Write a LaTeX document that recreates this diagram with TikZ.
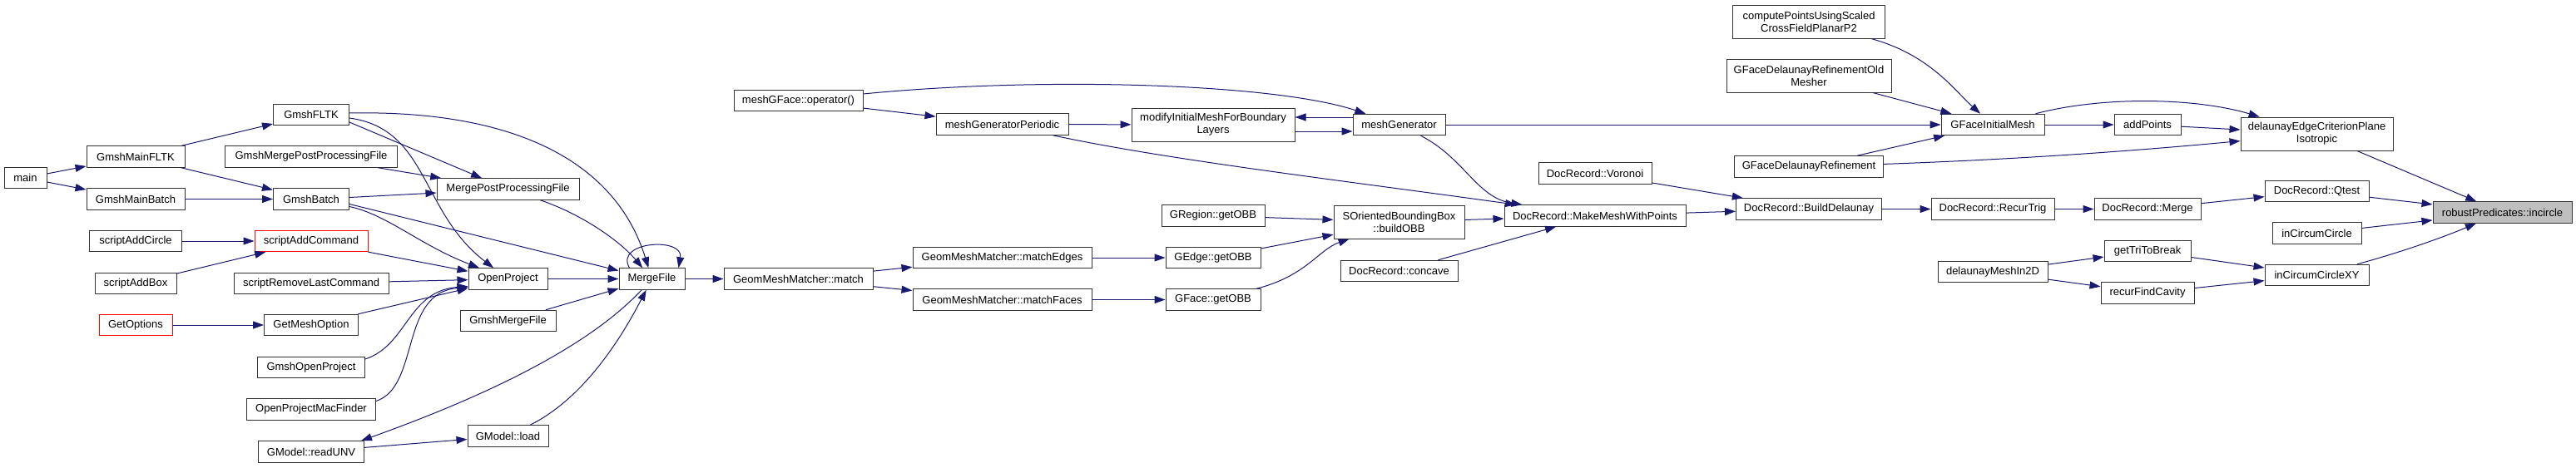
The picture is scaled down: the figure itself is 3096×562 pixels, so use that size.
\documentclass[tikz,border=0pt]{standalone}
\usepackage{fontspec}
\setmainfont{Liberation Sans}
\usetikzlibrary{arrows.meta}
\definecolor{edgeblue}{RGB}{25,25,112}
\definecolor{boxgray}{RGB}{191,191,191}

\begin{document}
\begin{tikzpicture}[
    x=1pt, y=-1pt,
    every node/.style={font=\fontsize{13}{15}\selectfont},
    fn/.style={draw=black!80, fill=white, line width=1pt, inner sep=0pt, minimum height=25.5pt, align=center},
    fntwo/.style={fn, minimum height=40pt},
    truncfn/.style={fn, draw=red},
    focusfn/.style={fn, fill=boxgray},
    callarrow/.style={-{Triangle[length=13pt,width=9pt]}, color=edgeblue, line width=1pt}
]
\useasboundingbox (0,0) rectangle (3096,562);

\node[fn, minimum width=51pt] (main) at (30.5,214) {main};
\node[fn, minimum width=118pt] (mainFltk) at (163,188.5) {GmshMainFLTK};
\node[fn, minimum width=118pt] (mainBatch) at (163,239.5) {GmshMainBatch};
\node[fn, minimum width=111pt] (addCircle) at (163,290) {scriptAddCircle};
\node[fn, minimum width=98pt] (addBox) at (163,341) {scriptAddBox};
\node[truncfn, minimum width=88pt] (getOptions) at (163,391) {GetOptions};
\node[fn, minimum width=91pt] (fltk) at (374,138) {GmshFLTK};
\node[fn, minimum width=207pt] (gmshMergePost) at (374,188.5) {GmshMergePostProcessingFile};
\node[fn, minimum width=91pt] (batch) at (374,239.5) {GmshBatch};
\node[truncfn, minimum width=136pt] (addCommand) at (374,290) {scriptAddCommand};
\node[fn, minimum width=186pt] (removeLast) at (374,341) {scriptRemoveLastCommand};
\node[fn, minimum width=113pt] (meshOption) at (374,391) {GetMeshOption};
\node[fn, minimum width=129pt] (gmshOpen) at (374,442) {GmshOpenProject};
\node[fn, minimum width=155pt] (macFinder) at (374,492.5) {OpenProjectMacFinder};
\node[fn, minimum width=127pt] (readUnv) at (374,543.5) {GModel::readUNV};
\node[fn, minimum width=171pt] (mergePost) at (610.5,227.5) {MergePostProcessingFile};
\node[fn, minimum width=95pt] (openProject) at (610.5,335.5) {OpenProject};
\node[fn, minimum width=115pt] (gmshMerge) at (610.5,386) {GmshMergeFile};
\node[fn, minimum width=97pt] (load) at (610.5,524.5) {GModel::load};
\node[fn, minimum width=79pt] (mergeFile) at (783.5,335.5) {MergeFile};
\node[fn, minimum width=155pt] (meshOp) at (959.5,121) {meshGFace::operator()};
\node[fn, minimum width=179pt] (match) at (959.5,335.5) {GeomMeshMatcher::match};
\node[fn, minimum width=159pt] (genPeriodic) at (1204.5,149.5) {meshGeneratorPeriodic};
\node[fn, minimum width=215pt] (matchEdges) at (1204.5,310) {GeomMeshMatcher::matchEdges};
\node[fn, minimum width=215pt] (matchFaces) at (1204.5,360.5) {GeomMeshMatcher::matchFaces};
\node[fntwo, minimum width=196pt] (modifyBl) at (1458,150) {modifyInitialMeshForBoundary\\Layers};
\node[fn, minimum width=124pt] (regionObb) at (1458,259.5) {GRegion::getOBB};
\node[fn, minimum width=114pt] (edgeObb) at (1458,310) {GEdge::getOBB};
\node[fn, minimum width=114pt] (faceObb) at (1458,360.5) {GFace::getOBB};
\node[fn, minimum width=111pt] (generator) at (1681.5,150) {meshGenerator};
\node[fntwo, minimum width=157pt] (buildObb) at (1681.5,267) {SOrientedBoundingBox\\::buildOBB};
\node[fn, minimum width=141pt] (concave) at (1681.5,326) {DocRecord::concave};
\node[fn, minimum width=136pt] (voronoi) at (1917,208.5) {DocRecord::Voronoi};
\node[fn, minimum width=218pt] (makeMesh) at (1917,259.5) {DocRecord::MakeMeshWithPoints};
\node[fntwo, minimum width=183pt] (crossField) at (2174,26) {computePointsUsingScaled\\CrossFieldPlanarP2};
\node[fntwo, minimum width=198pt] (refineOld) at (2174,91) {GFaceDelaunayRefinementOld\\Mesher};
\node[fn, minimum width=179pt] (refine) at (2174,200.5) {GFaceDelaunayRefinement};
\node[fn, minimum width=175pt] (buildDel) at (2174,251.5) {DocRecord::BuildDelaunay};
\node[fn, minimum width=124pt] (initMesh) at (2395,150) {GFaceInitialMesh};
\node[fn, minimum width=148pt] (recurTrig) at (2395,251.5) {DocRecord::RecurTrig};
\node[fn, minimum width=132pt] (mesh2d) at (2395,327) {delaunayMeshIn2D};
\node[fn, minimum width=80pt] (addPoints) at (2581,150) {addPoints};
\node[fn, minimum width=128pt] (docMerge) at (2581,251.5) {DocRecord::Merge};
\node[fn, minimum width=104pt] (triBreak) at (2581,302) {getTriToBreak};
\node[fn, minimum width=112pt] (findCavity) at (2581,352.5) {recurFindCavity};
\node[fntwo, minimum width=183pt] (edgeCrit) at (2784.5,161) {delaunayEdgeCriterionPlane\\Isotropic};
\node[fn, minimum width=125pt] (qtest) at (2784.5,230) {DocRecord::Qtest};
\node[fn, minimum width=107pt] (circ) at (2784.5,280.5) {inCircumCircle};
\node[fn, minimum width=125pt] (circXY) at (2784.5,331) {inCircumCircleXY};
\node[focusfn, minimum width=167pt] (incircle) at (3007.5,255.5) {robustPredicates::incircle};

\draw[callarrow] (main) -- (mainFltk);
\draw[callarrow] (main) -- (mainBatch);
\draw[callarrow] (mainFltk) -- (fltk);
\draw[callarrow] (mainFltk) -- (batch);
\draw[callarrow] (mainBatch) -- (batch);
\draw[callarrow] (addCircle) -- (addCommand);
\draw[callarrow] (addBox) -- (addCommand);
\draw[callarrow] (getOptions) -- (meshOption);
\draw[callarrow] ([yshift=2pt]fltk.east) .. controls (620,132) and (740,195) .. (mergeFile);
\draw[callarrow] ([yshift=-4pt]fltk.east) .. controls (515,155) and (505,255) .. (openProject);
\draw[callarrow] ([yshift=-9pt]fltk.east) -- (mergePost);
\draw[callarrow] (gmshMergePost) -- (mergePost);
\draw[callarrow] ([yshift=2pt]batch.east) -- (mergePost);
\draw[callarrow] ([yshift=-6pt]batch.east) -- (mergeFile);
\draw[callarrow] ([yshift=-9pt]batch.east) .. controls (465,258) and (505,295) .. (openProject);
\draw[callarrow] (addCommand) -- (openProject);
\draw[callarrow] (removeLast) -- (openProject);
\draw[callarrow] (meshOption) -- (openProject);
\draw[callarrow] ([yshift=10pt]gmshOpen.east) .. controls (490,415) and (490,350) .. ([yshift=-9pt]openProject.west);
\draw[callarrow] ([yshift=10pt]macFinder.east) .. controls (505,465) and (480,352) .. ([yshift=-10pt]openProject.west);
\draw[callarrow] (openProject) -- (mergeFile);
\draw[callarrow] (mergePost) .. controls (700,258) and (745,290) .. (mergeFile);
\draw[callarrow] (gmshMerge) -- (mergeFile);
\draw[callarrow] (load) .. controls (700,480) and (745,410) .. (mergeFile);
\draw[callarrow] (mergeFile) .. controls (700,425) and (560,485) .. ([xshift=-4pt]readUnv.north east);
\draw[callarrow] (readUnv) -- (load);
\draw[callarrow] ([xshift=13pt]mergeFile.north west) .. controls (738,290) and (822,285) .. ([xshift=-8pt]mergeFile.north east);
\draw[callarrow] (mergeFile) -- (match);
\draw[callarrow] (match) -- (matchEdges);
\draw[callarrow] (match) -- (matchFaces);
\draw[callarrow] (matchEdges) -- (edgeObb);
\draw[callarrow] (matchFaces) -- (faceObb);
\draw[callarrow] (regionObb) -- (buildObb);
\draw[callarrow] (edgeObb) -- (buildObb);
\draw[callarrow] (faceObb) .. controls (1570,332) and (1585,300) .. (buildObb);
\draw[callarrow] (buildObb) -- (makeMesh);
\draw[callarrow] (concave) -- (makeMesh);
\draw[callarrow] (generator) .. controls (1760,190) and (1775,238) .. (makeMesh);
\draw[callarrow] (genPeriodic) .. controls (1400,192) and (1620,218) .. (makeMesh);
\draw[callarrow] ([yshift=8pt]meshOp.east) .. controls (1250,92) and (1530,100) .. (generator);
\draw[callarrow] (meshOp) -- (genPeriodic);
\draw[callarrow] (genPeriodic) -- (modifyBl);
\draw[callarrow] ([yshift=9pt]generator.west) -- ([yshift=9pt]modifyBl.east);
\draw[callarrow] ([yshift=-8pt]modifyBl.east) -- ([yshift=-8pt]generator.west);
\draw[callarrow] (generator) -- (initMesh);
\draw[callarrow] (crossField) .. controls (2320,66) and (2350,110) .. (initMesh);
\draw[callarrow] (refineOld) -- (initMesh);
\draw[callarrow] (refine) -- (initMesh);
\draw[callarrow] (initMesh) -- (addPoints);
\draw[callarrow] ([xshift=-11pt]initMesh.north east) .. controls (2530,115) and (2640,118) .. (edgeCrit);
\draw[callarrow] (addPoints) -- (edgeCrit);
\draw[callarrow] (refine) .. controls (2420,192) and (2560,182) .. (edgeCrit);
\draw[callarrow] (voronoi) -- (buildDel);
\draw[callarrow] (makeMesh) -- (buildDel);
\draw[callarrow] (buildDel) -- (recurTrig);
\draw[callarrow] (recurTrig) -- (docMerge);
\draw[callarrow] (docMerge) -- (qtest);
\draw[callarrow] (mesh2d) -- (triBreak);
\draw[callarrow] (mesh2d) -- (findCavity);
\draw[callarrow] (triBreak) -- (circXY);
\draw[callarrow] (findCavity) -- (circXY);
\draw[callarrow] (edgeCrit) -- (incircle);
\draw[callarrow] (qtest) -- (incircle);
\draw[callarrow] (circ) -- (incircle);
\draw[callarrow] (circXY) .. controls (2880,305) and (2930,288) .. (incircle);
\end{tikzpicture}
\end{document}
